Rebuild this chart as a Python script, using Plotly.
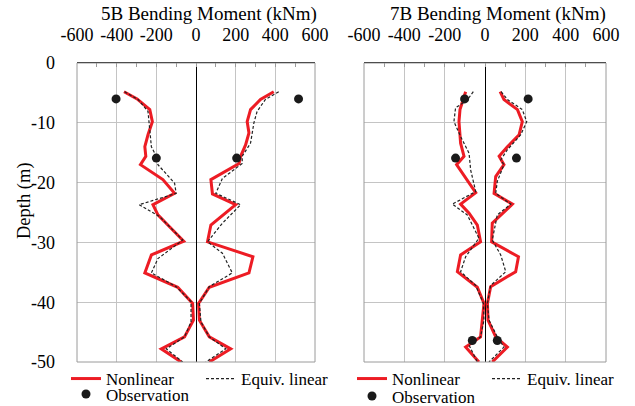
import plotly.graph_objects as go

# ---------------- data ----------------
x_tick_vals = [-600, -400, -200, 0, 200, 400, 600]
x_tick_text = ["-600", "-400", "-200", "0", "200", "400", "600"]
y_tick_vals = [0, -10, -20, -30, -40, -50]
y_tick_text = ["0", "-10", "-20", "-30", "-40", "-50"]

# Pile 5B - nonlinear analysis envelope (negative / positive side)
b5_nl_neg_m = [-363, -297, -233, -220, -242, -258, -253, -280, -167, -108, -217, -192,
               -142, -62, -225, -258, -92, -17, -13, -58, -175, -75]
b5_nl_neg_z = [-4.8, -6.0, -7.8, -9.8, -12.0, -14.0, -15.6, -17.0, -19.5, -21.8, -23.7, -25.4,
               -27.1, -29.8, -32.1, -35.1, -37.5, -40.2, -43.0, -45.8, -47.8, -50.0]
b5_nl_pos_m = [392, 325, 275, 258, 267, 250, 225, 217, 75, 83, 200, 75,
               58, 287, 267, 67, 13, 17, 67, 175, 67]
b5_nl_pos_z = [-4.8, -6.1, -7.8, -9.8, -11.7, -13.7, -15.6, -16.8, -19.5, -21.9, -23.7, -27.1,
               -29.9, -32.4, -35.1, -37.5, -40.2, -43.0, -45.8, -47.8, -50.0]

# Pile 5B - equivalent linear analysis envelope
b5_el_neg_m = [-360, -292, -242, -233, -225, -200, -192, -108, -100, -287, -183, -67,
               -192, -225, -100, -25, -25, -58, -150, -67]
b5_el_neg_z = [-4.8, -6.1, -8.1, -11.5, -14.0, -15.6, -17.0, -20.1, -21.8, -23.7, -25.7, -29.6,
               -32.7, -35.1, -37.4, -39.9, -43.3, -45.8, -47.8, -50.0]
b5_el_pos_m = [417, 350, 308, 292, 275, 233, 233, 133, 100, 225, 133, 58,
               133, 183, 67, 17, 25, 67, 150, 50]
b5_el_pos_z = [-4.8, -6.1, -8.1, -10.0, -13.4, -15.6, -16.8, -19.3, -21.8, -23.7, -26.8, -29.9,
               -31.8, -35.1, -37.4, -40.2, -43.3, -45.8, -47.8, -50.0]

# Pile 5B - measured values
b5_obs_m = [-403, 517, -200, 205]
b5_obs_z = [-6.0, -6.0, -15.9, -15.9]

# Pile 7B - nonlinear analysis envelope
b7_nl_neg_m = [-96, -108, -124, -129, -121, -104, -141, -46, -121, -79, -38, -22,
               -121, -137, -38, -5, -13, -22, -96, -30]
b7_nl_neg_z = [-4.8, -6.1, -7.8, -9.8, -13.4, -15.6, -17.0, -21.7, -23.6, -25.1, -27.1, -29.9,
               -32.1, -34.9, -37.5, -40.2, -43.0, -45.8, -47.5, -50.0]
b7_nl_pos_m = [75, 94, 161, 185, 169, 111, 70, 94, 53, 45, 136, 36,
               33, 166, 152, 28, 12, 15, 53, 111, 36]
b7_nl_pos_z = [-4.8, -6.1, -7.8, -9.8, -12.0, -14.0, -15.6, -17.0, -19.0, -21.8, -23.6, -26.8,
               -29.9, -32.4, -34.9, -37.4, -40.2, -43.0, -45.8, -47.5, -50.0]

# Pile 7B - equivalent linear analysis envelope
b7_el_neg_m = [-58, -88, -146, -154, -121, -79, -71, -46, -162, -88, -30,
               -96, -121, -46, -8, -5, -22, -79, -38]
b7_el_neg_z = [-4.8, -6.2, -7.5, -9.8, -12.3, -15.1, -17.9, -21.5, -23.6, -25.4, -29.3,
               -32.4, -34.9, -37.2, -40.2, -43.0, -45.8, -47.2, -50.0]
b7_el_pos_m = [80, 111, 185, 207, 177, 111, 78, 94, 61, 53, 128, 61,
               36, 78, 103, 28, 12, 20, 61, 94, 20]
b7_el_pos_z = [-4.8, -6.1, -7.8, -9.8, -12.0, -14.5, -16.2, -17.0, -19.8, -21.8, -23.6, -25.4,
               -29.6, -32.1, -34.9, -37.2, -40.2, -43.0, -45.8, -47.5, -50.0]

# Pile 7B - measured values
b7_obs_m = [-101, 214, -146, 156, -63, 61]
b7_obs_z = [-6.0, -6.0, -15.9, -15.9, -46.4, -46.4]

panel_titles = ["5B Bending Moment (kNm)", "7B Bending Moment (kNm)"]
depth_title = "Depth (m)"

# ---------------- style ----------------
W, H = 635, 406
FONT = "Liberation Serif"
RED = "#ED1C24"
GRID = "#c4c4c4"
FRAME = "#9a9a9a"


def join(a, b):
    """Concatenate two branches into one polyline with a break between them."""
    return list(a) + [None] + list(b)


fig = go.Figure()

panels = [
    dict(xa="x", ya="y", lg_lines="legend", lg_obs="legend2",
         nl=(b5_nl_neg_m, b5_nl_neg_z, b5_nl_pos_m, b5_nl_pos_z),
         el=(b5_el_neg_m, b5_el_neg_z, b5_el_pos_m, b5_el_pos_z),
         obs=(b5_obs_m, b5_obs_z)),
    dict(xa="x2", ya="y2", lg_lines="legend3", lg_obs="legend4",
         nl=(b7_nl_neg_m, b7_nl_neg_z, b7_nl_pos_m, b7_nl_pos_z),
         el=(b7_el_neg_m, b7_el_neg_z, b7_el_pos_m, b7_el_pos_z),
         obs=(b7_obs_m, b7_obs_z)),
]

for p in panels:
    nm, nz, pm, pz = p["nl"]
    fig.add_trace(go.Scatter(
        x=join(nm, pm), y=join(nz, pz), mode="lines", name="Nonlinear",
        line=dict(color=RED, width=3), xaxis=p["xa"], yaxis=p["ya"],
        legend=p["lg_lines"], connectgaps=False))
    nm, nz, pm, pz = p["el"]
    fig.add_trace(go.Scatter(
        x=join(nm, pm), y=join(nz, pz), mode="lines", name="Equiv. linear",
        line=dict(color="#222222", width=1.2, dash="3px,2px"), xaxis=p["xa"], yaxis=p["ya"],
        legend=p["lg_lines"], connectgaps=False))
    om, oz = p["obs"]
    fig.add_trace(go.Scatter(
        x=om, y=oz, mode="markers", name="Observation",
        marker=dict(color="#1a1a1a", size=9), xaxis=p["xa"], yaxis=p["ya"],
        legend=p["lg_obs"]))

x_dom = [[77 / W, 315 / W], [364 / W, 606 / W]]
y_dom = [1 - 362 / H, 1 - 63 / H]

xcommon = dict(
    range=[-600, 600], side="top", tickmode="array", tickvals=x_tick_vals,
    ticktext=x_tick_text, tickangle=0, showgrid=True, gridcolor=GRID, gridwidth=1,
    zeroline=True, zerolinecolor="black", zerolinewidth=1.3,
    showline=True, linecolor="black", linewidth=1, mirror=False,
    ticks="inside", ticklen=4, tickcolor=FRAME,
    minor=dict(dtick=100, tick0=0, ticks="inside", ticklen=4, tickcolor=FRAME, showgrid=False),
    ticklabelstandoff=14, tickfont=dict(family=FONT, size=18, color="black"),
    automargin=False, fixedrange=True,
)
ycommon = dict(
    range=[-50, 0], tickmode="array", tickvals=y_tick_vals, ticktext=y_tick_text,
    showgrid=True, gridcolor=GRID, gridwidth=1, zeroline=False,
    showline=False, ticks="", tickfont=dict(family=FONT, size=18, color="black"),
    ticklabelstandoff=21, automargin=False, fixedrange=True,
)

legend_common = dict(
    orientation="h", xanchor="left", yanchor="middle", bgcolor="rgba(0,0,0,0)",
    font=dict(family=FONT, size=17, color="black"), itemwidth=30,
    entrywidth=90, entrywidthmode="pixels", tracegroupgap=0,
    itemclick=False, itemdoubleclick=False,
)

fig.update_layout(
    width=W, height=H, margin=dict(l=0, r=0, t=0, b=0, pad=0, autoexpand=False),
    paper_bgcolor="white", plot_bgcolor="white",
    font=dict(family=FONT, color="black"),
    xaxis=dict(domain=x_dom[0], anchor="y", **xcommon),
    xaxis2=dict(domain=x_dom[1], anchor="y2", **xcommon),
    yaxis=dict(domain=y_dom, anchor="x", **ycommon),
    yaxis2=dict(domain=y_dom, anchor="x2", showticklabels=False, **ycommon),
    legend=dict(x=66 / W, y=1 - 379 / H, **legend_common),
    legend2=dict(x=66 / W, y=1 - 394.5 / H, **legend_common),
    legend3=dict(x=352 / W, y=1 - 379 / H, **legend_common),
    legend4=dict(x=352 / W, y=1 - 396.5 / H, **legend_common),
    showlegend=True,
)

# plot frame (grey sides and bottom; the top edge is the black axis line)
for xr, yr in [("x domain", "y domain"), ("x2 domain", "y2 domain")]:
    fig.add_shape(type="rect", xref=xr, yref=yr, x0=0, x1=1, y0=0, y1=1,
                  line=dict(color=FRAME, width=1), layer="above")

# panel titles and depth label
fig.add_annotation(text=panel_titles[0], xref="paper", yref="paper", x=209 / W, y=1 - 13.5 / H,
                   xanchor="center", yanchor="middle", showarrow=False,
                   font=dict(family=FONT, size=19, color="black"))
fig.add_annotation(text=panel_titles[1], xref="paper", yref="paper", x=498 / W, y=1 - 13.5 / H,
                   xanchor="center", yanchor="middle", showarrow=False,
                   font=dict(family=FONT, size=19, color="black"))
fig.add_annotation(text=depth_title, xref="paper", yref="paper", x=24 / W, y=1 - 201 / H,
                   xanchor="center", yanchor="middle", showarrow=False, textangle=-90,
                   font=dict(family=FONT, size=18.5, color="black"))

fig.write_html("out.html", config={"displayModeBar": False})
